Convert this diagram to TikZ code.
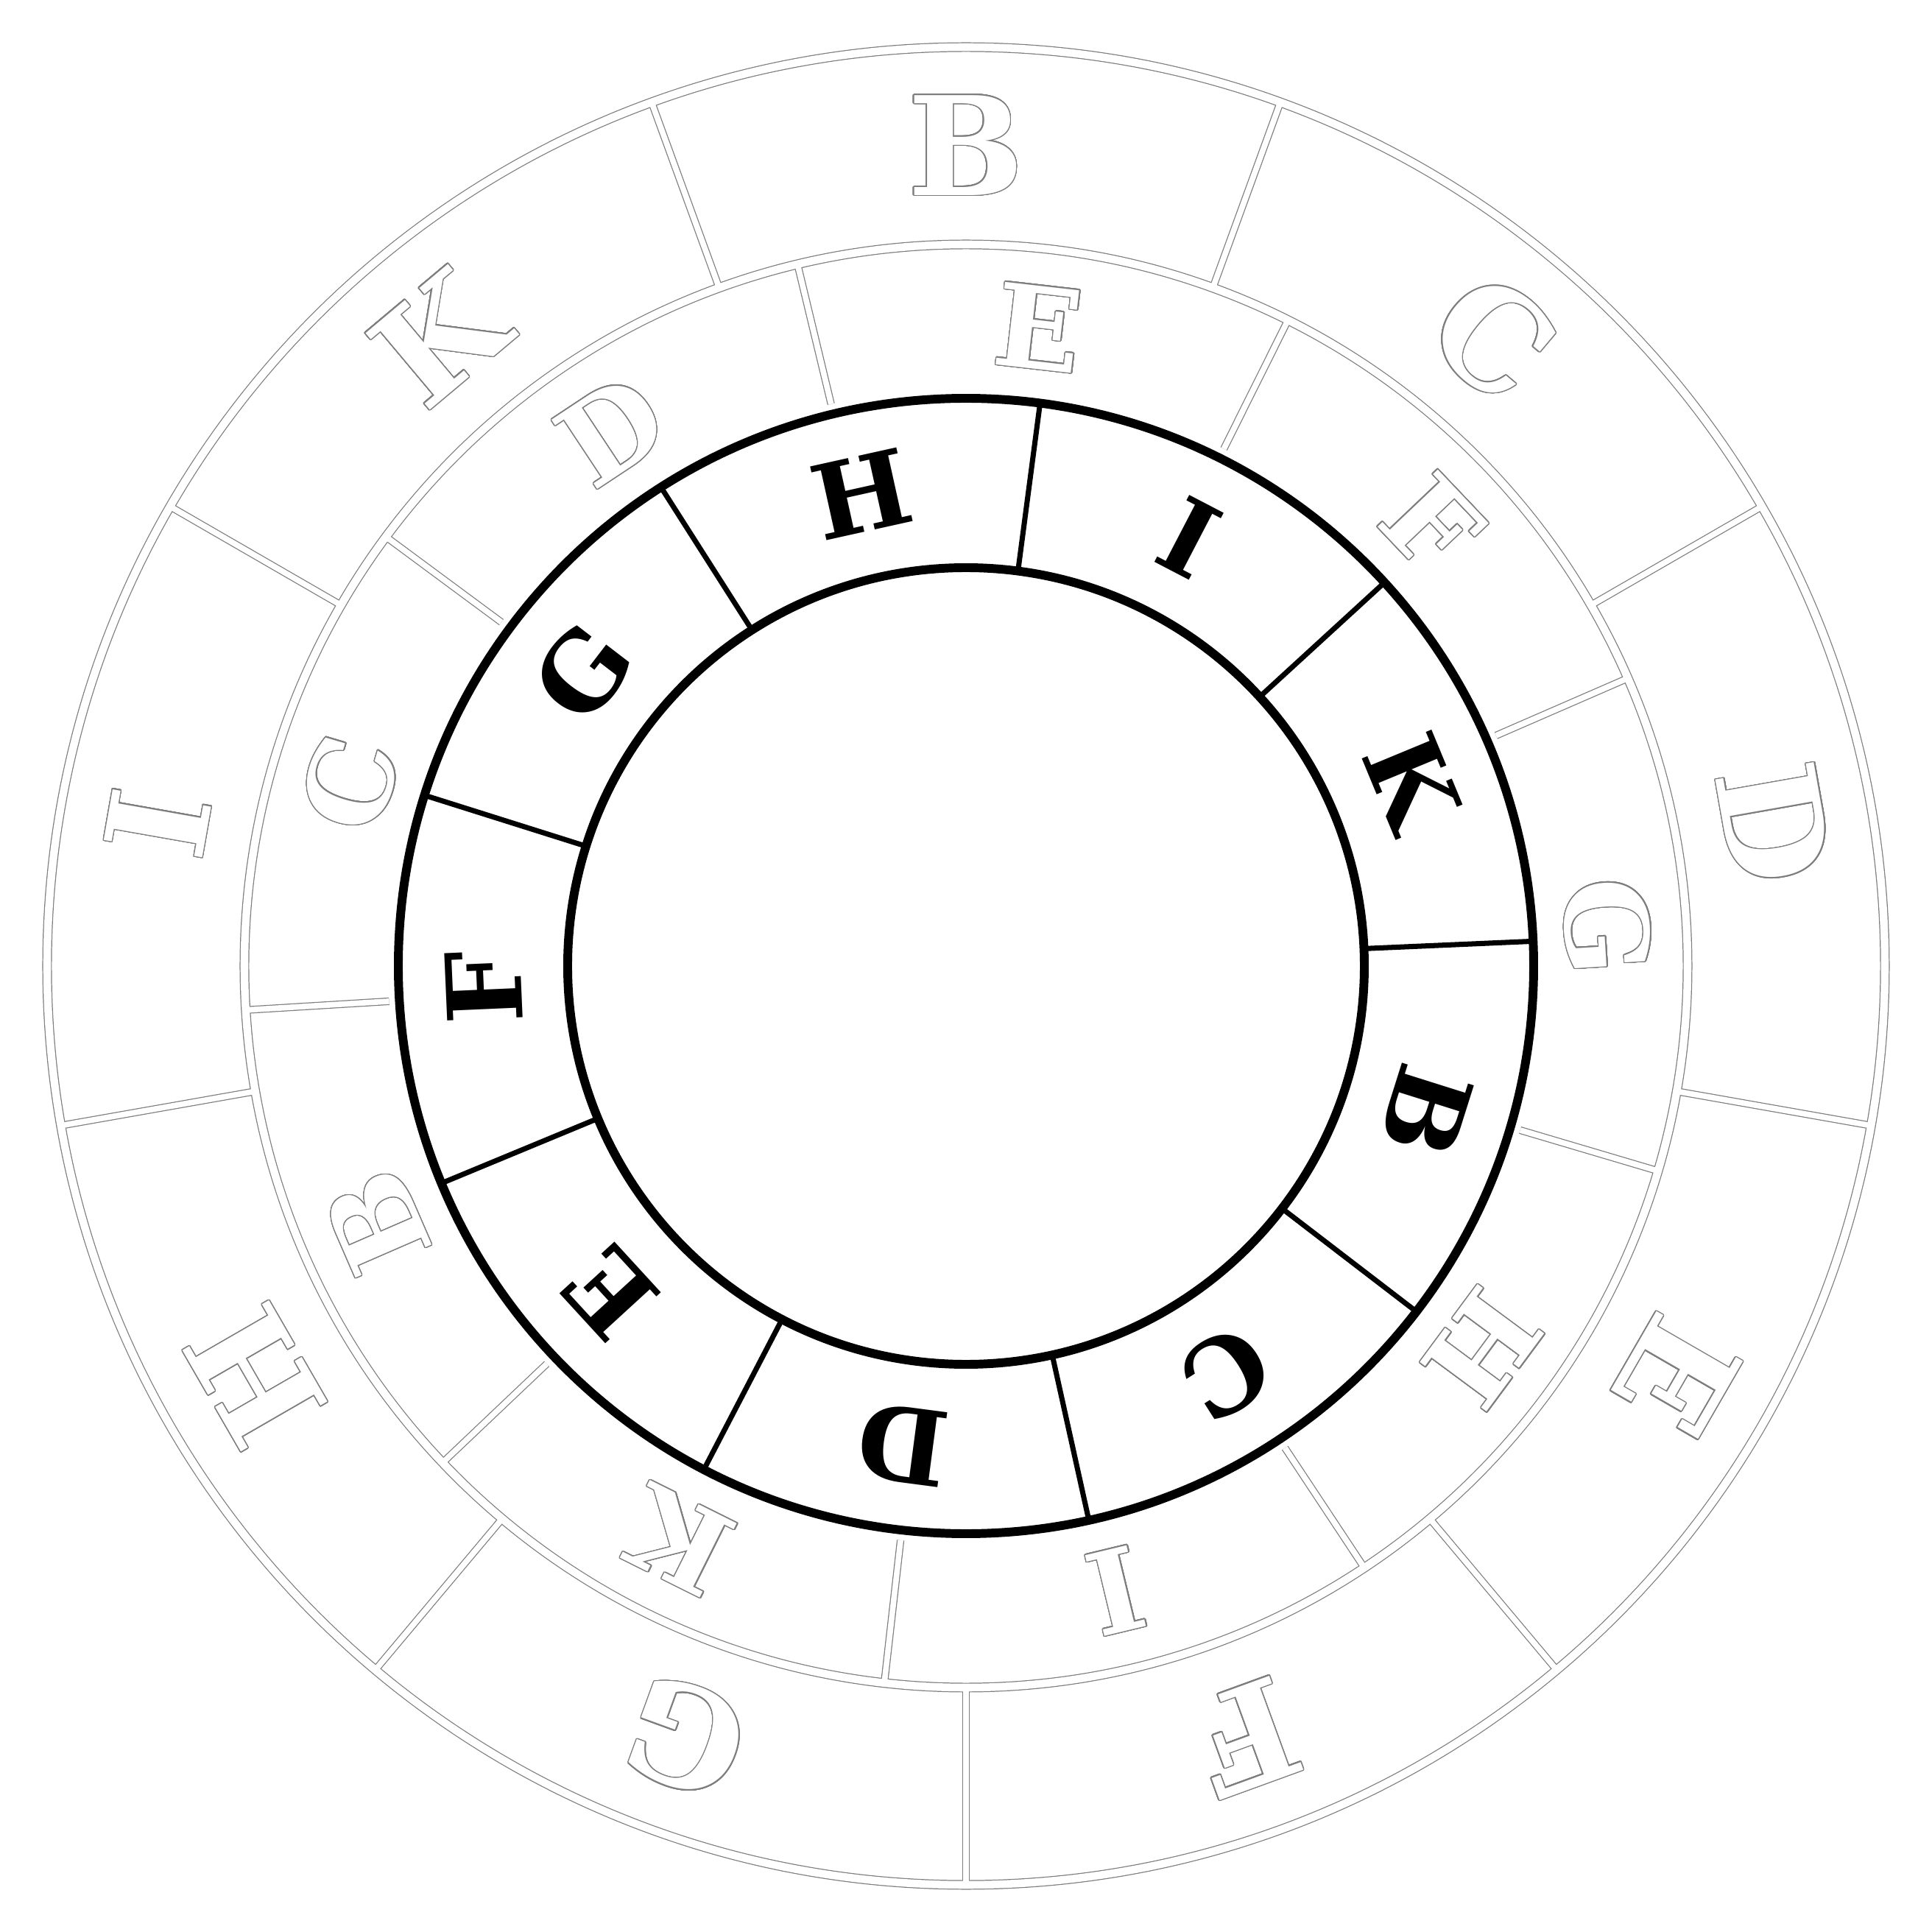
\documentclass[tikz,border=0pt]{standalone}
\usepackage{fontspec}
\usepackage{xcolor}
\usepackage{tikz}
\usepackage{contour}
\setmainfont{DejaVu Serif}
\contourlength{0.4pt}
\contournumber{32}
\definecolor{ghostGray}{RGB}{125,125,125}
\tikzset{
  ringletter/.style={font=\fontsize{#1}{#1}\selectfont\bfseries,inner sep=0pt},
  ghostletter/.style={ringletter=#1,text=white},
}

\begin{document}
\begin{tikzpicture}
  \useasboundingbox (-13.12,-13.12) rectangle (13.12,13.12);
  % Aneis externos (so contorno)
  \foreach \cor/\extra in {ghostGray/0.7pt, white/0pt}{
    \draw[\cor,line width=3pt+\extra] (0,0) circle (9.8) (0,0) circle (12.48);
    \foreach \a in {0,...,8}{
      \draw[\cor,line width=2.2pt+\extra] (110-40*\a:9.8) -- (110-40*\a:12.48);
      \draw[\cor,line width=2.2pt+\extra] (103.5-40*\a:7.85) -- (103.5-40*\a:9.8);
    }
  }
  % Letras externas
  \foreach \l [count=\k from 0] in {B,C,D,E,F,G,H,I,K}
    \node[ghostletter=53,rotate=-40*\k] (ext-\l) at (90-40*\k:11.14)
      {\contour{ghostGray}{\l}};
  % Letras do meio
  \foreach \l [count=\k from 0] in {E,F,G,H,I,K,B,C,D}
    \node[ghostletter=44,rotate=-6.5-40*\k] (mid-\l) at (83.5-40*\k:8.72)
      {\contour{ghostGray}{\l}};

  % Anel interno
  \draw[line width=3.4pt] (0,0) circle (5.41) (0,0) circle (7.71);
  \foreach \a in {0,...,8}
    \draw[line width=2pt] (122.5-40*\a:5.41) -- (122.5-40*\a:7.71);
  \foreach \l [count=\k from 0] in {H,I,K,B,C,D,E,F,G}
    \node[ringletter=40,rotate=12.5-40*\k] (int-\l) at (102.5-40*\k:6.56) {\l};
\end{tikzpicture}
\end{document}
